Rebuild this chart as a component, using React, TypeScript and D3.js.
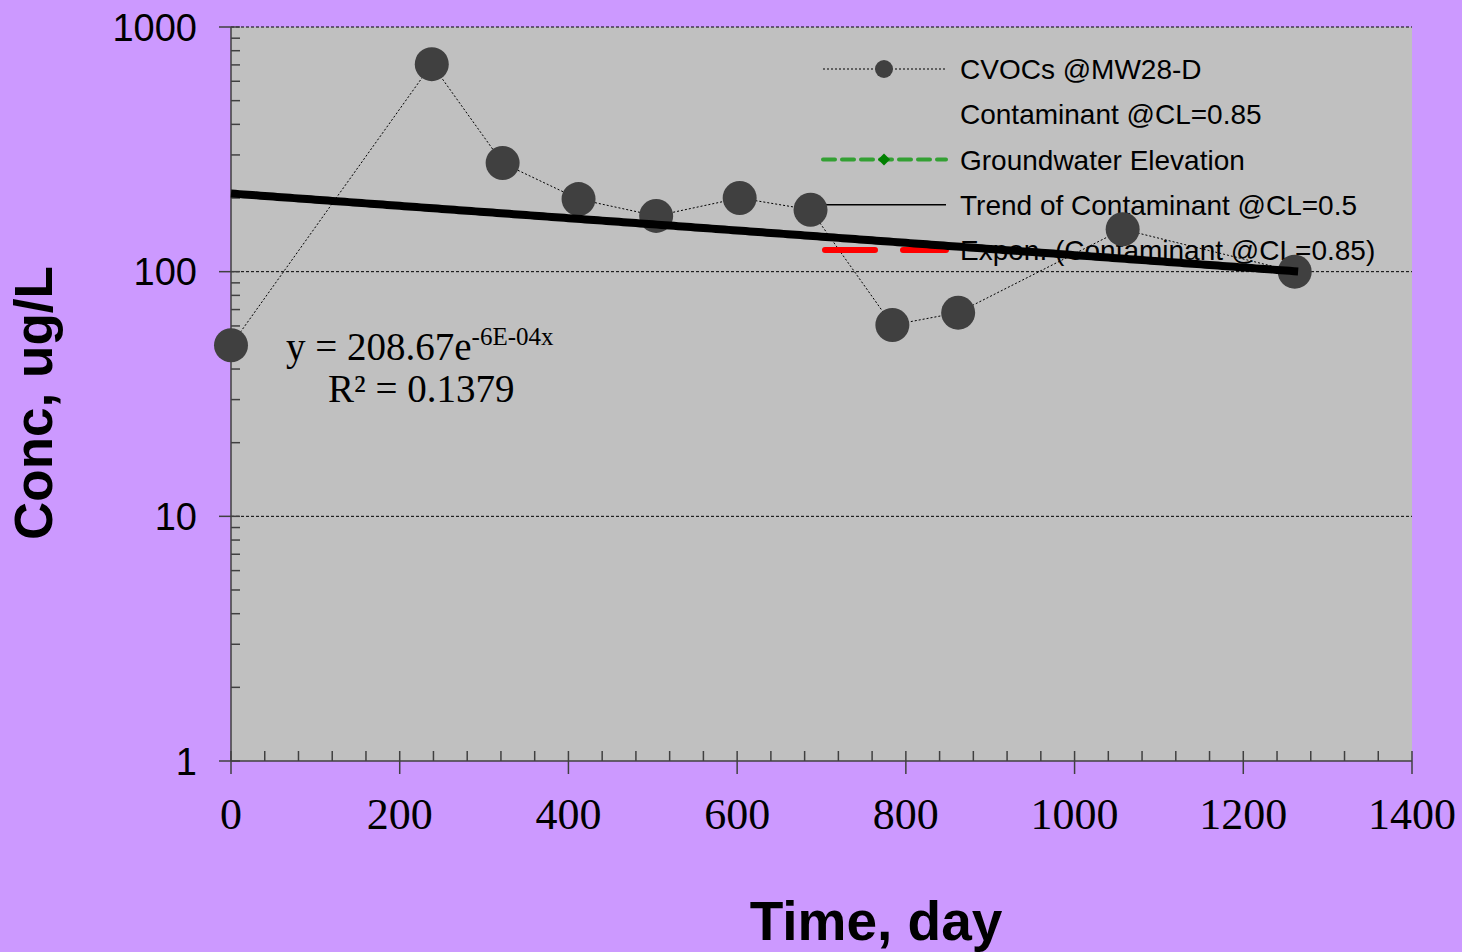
import React, { useEffect } from 'react';
import * as d3 from 'd3';

// sampling days and concentrations (ug/L)
const days = [0, 238, 322, 412, 504, 603, 687, 784, 862, 1057, 1261];
const conc = [50, 705, 278, 198, 169, 200, 179, 60.5, 68, 149, 100];

// exponential trend shown in the chart
const trendA = 208.67;
const trendB = -0.00058;
const trendDays = [0, 1265];

const xTicks = [0, 200, 400, 600, 800, 1000, 1200, 1400];
const yTicks = [1, 10, 100, 1000];

const legendLabels = [
  'CVOCs @MW28-D',
  'Contaminant @CL=0.85',
  'Groundwater Elevation',
  'Trend of Contaminant @CL=0.5',
  'Expon. (Contaminant @CL=0.85)',
];

const W = 1462;
const H = 952;
const margin = { top: 27, right: 50, bottom: 191, left: 231 };

export default function App() {
  useEffect(() => {
    document.body.style.margin = '0';
  }, []);

  const x = d3.scaleLinear().domain([0, 1400]).range([margin.left, W - margin.right]);
  const y = d3.scaleLog().domain([1, 1000]).range([H - margin.bottom, margin.top]);

  const x0 = x.range()[0];
  const x1 = x.range()[1];
  const yBot = y.range()[0];
  const yTop = y.range()[1];

  const minorX = d3.range(0, 1401, 40).filter(v => v % 200 !== 0);
  const minorY: number[] = [];
  [1, 10, 100].forEach(d => {
    for (let k = 2; k <= 9; k++) minorY.push(d * k);
  });

  const dataLine = d3
    .line<number>()
    .x((d, i) => x(days[i]))
    .y(d => y(d));

  const trendPts = d3.range(trendDays[0], trendDays[1] + 1, 5);
  const trendLine = d3
    .line<number>()
    .x(d => x(d))
    .y(d => y(trendA * Math.exp(trendB * d)));

  const axisColor = '#404040';
  const legX = 823;
  const legTextX = 960;
  const legY = d3.scalePoint<number>().domain(d3.range(legendLabels.length)).range([69, 250]);

  return (
    <svg width={W} height={H} style={{ display: 'block' }}>
      <rect x={0} y={0} width={W} height={H} fill="#CC99FF" />
      <rect x={x0} y={yTop} width={x1 - x0} height={yBot - yTop} fill="#C0C0C0" />

      {/* gridlines */}
      {yTicks.slice(1).map(t => (
        <line
          key={'g' + t}
          x1={x0}
          x2={x1}
          y1={y(t)}
          y2={y(t)}
          stroke="#000"
          strokeWidth={1}
          strokeDasharray="3,2"
        />
      ))}

      {/* axes */}
      <line x1={x0} x2={x0} y1={yTop} y2={yBot} stroke={axisColor} strokeWidth={1.5} />
      <line x1={x0} x2={x1} y1={yBot} y2={yBot} stroke={axisColor} strokeWidth={1.5} />
      {yTicks.map(t => (
        <g key={'yt' + t}>
          <line x1={x0 - 12} x2={x0 + 9} y1={y(t)} y2={y(t)} stroke={axisColor} strokeWidth={1.5} />
          <text
            x={197}
            y={y(t)}
            dy="0.36em"
            textAnchor="end"
            fontFamily="Arial, 'Liberation Sans', sans-serif"
            fontSize={38}
            fill="#000"
          >
            {t}
          </text>
        </g>
      ))}
      {minorY.map(t => (
        <line key={'ym' + t} x1={x0} x2={x0 + 9} y1={y(t)} y2={y(t)} stroke={axisColor} strokeWidth={1.5} />
      ))}
      {xTicks.map(t => (
        <g key={'xt' + t}>
          <line x1={x(t)} x2={x(t)} y1={yBot - 10} y2={yBot + 13} stroke={axisColor} strokeWidth={1.5} />
          <text
            x={x(t)}
            y={829}
            textAnchor="middle"
            fontFamily="'Times New Roman', 'Liberation Serif', serif"
            fontSize={44}
            fill="#000"
          >
            {t}
          </text>
        </g>
      ))}
      {minorX.map(t => (
        <line key={'xm' + t} x1={x(t)} x2={x(t)} y1={yBot - 10} y2={yBot} stroke={axisColor} strokeWidth={1.5} />
      ))}

      {/* axis titles */}
      <text
        transform={`translate(52,${(yTop + yBot) / 2 + 9}) rotate(-90)`}
        textAnchor="middle"
        fontFamily="Arial, 'Liberation Sans', sans-serif"
        fontWeight="bold"
        fontSize={53}
        fill="#000"
      >
        Conc, ug/L
      </text>
      <text
        x={876}
        y={940}
        textAnchor="middle"
        fontFamily="Arial, 'Liberation Sans', sans-serif"
        fontWeight="bold"
        fontSize={55}
        fill="#000"
      >
        Time, day
      </text>

      {/* data series */}
      <path d={dataLine(conc) || ''} fill="none" stroke="#000" strokeWidth={1} strokeDasharray="2,2" />

      {/* legend */}
      <g fontFamily="Arial, 'Liberation Sans', sans-serif" fontSize={28} fill="#000">
        <line x1={legX} x2={946} y1={legY(0)} y2={legY(0)} stroke="#000" strokeWidth={1} strokeDasharray="2,2" />
        <circle cx={884} cy={legY(0)} r={9} fill="#404040" />
        <line
          x1={legX}
          x2={946}
          y1={legY(2)}
          y2={legY(2)}
          stroke="#33A033"
          strokeWidth={4}
          strokeDasharray="12,7"
          strokeLinecap="round"
        />
        <path
          d={`M${884},${legY(2)! - 6}L${890},${legY(2)}L${884},${legY(2)! + 6}L${878},${legY(2)}Z`}
          fill="#008000"
        />
        <line x1={legX} x2={946} y1={legY(3)} y2={legY(3)} stroke="#000" strokeWidth={1.3} />
        <line
          x1={legX + 2}
          x2={946}
          y1={legY(4)}
          y2={legY(4)}
          stroke="#FF0000"
          strokeWidth={6}
          strokeDasharray="50,28"
          strokeLinecap="round"
        />
        {legendLabels.map((l, i) => (
          <text key={l} x={legTextX} y={legY(i)} dy="0.36em">
            {l}
          </text>
        ))}
      </g>

      {/* markers */}
      {conc.map((c, i) => (
        <circle key={'m' + i} cx={x(days[i])} cy={y(c)} r={17} fill="#404040" />
      ))}

      {/* trend line */}
      <path d={trendLine(trendPts) || ''} fill="none" stroke="#000" strokeWidth={8} />

      {/* equation */}
      <g fontFamily="'Times New Roman', 'Liberation Serif', serif" fill="#000">
        <text x={286} y={360} fontSize={39}>
          y = 208.67e
          <tspan dy={-15} fontSize={25}>
            -6E-04x
          </tspan>
        </text>
        <text x={328} y={402} fontSize={39}>
          R² = 0.1379
        </text>
      </g>
    </svg>
  );
}
